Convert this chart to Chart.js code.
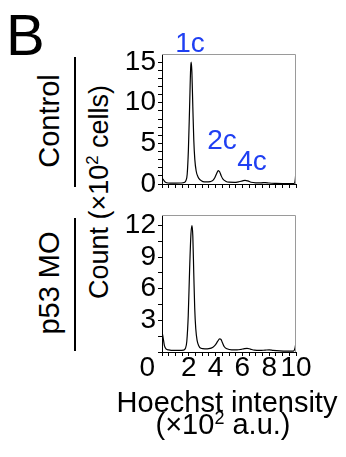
<!DOCTYPE html>
<html>
<head>
<meta charset="utf-8">
<script src="https://cdn.jsdelivr.net/npm/chart.js@4.4.1/dist/chart.umd.min.js"></script>
<style>
    html, body { margin: 0; padding: 0; background: #fff; }
    #fig { position: relative; width: 346px; height: 457px; overflow: hidden; font-family: 'Liberation Sans', Arial, sans-serif; color: #000; }
    .holder { position: absolute; left: 0; width: 346px; }
    .txt { position: absolute; line-height: 1; white-space: nowrap; }
    .rot { transform: translate(-50%, -50%) rotate(-90deg); }
    .ctr { transform: translateX(-50%); }
    .vline { position: absolute; left: 74px; width: 2px; background: #000; }
    sup { font-size: 62%; line-height: 0; vertical-align: 0.55em; }
</style>
</head>
<body>
<div id="fig">
    <div class="txt" style="left:6px; top:6px; font-size:58px;">B</div>
    <div class="txt rot" style="left:49px; top:121px; font-size:29px;">Control</div>
    <div class="txt rot" style="left:49px; top:283px; font-size:29px;">p53 MO</div>
    <div class="txt rot" style="left:99px; top:192px; font-size:27px;">Count (×10<sup>2</sup> cells)</div>
    <div class="vline" style="top:57px; height:130px;"></div>
    <div class="vline" style="top:218px; height:133px;"></div>

    <div class="holder" style="top:0; height:200px;"><canvas id="controlChart"></canvas></div>
    <div class="holder" style="top:190px; height:202px;"><canvas id="p53Chart"></canvas></div>

    <div class="txt ctr" style="left:227px; top:388px; font-size:29px;">Hoechst intensity</div>
    <div class="txt ctr" style="left:223px; top:410px; font-size:29px;">(×10<sup>2</sup> a.u.)</div>
</div>
<script>
// Hoechst intensity (x10^2 a.u.) and cell count (x10^2 cells)
const controlX = [0, 0.1, 0.2, 0.35, 0.6, 1.0, 1.4, 1.65, 1.78, 1.88, 1.97, 2.06, 2.14, 2.18, 2.23, 2.3, 2.37, 2.45, 2.55, 2.68,
    2.85, 3.05, 3.3, 3.6, 3.8, 3.95, 4.08, 4.2, 4.3, 4.42, 4.55, 4.75, 5.0, 5.4, 5.75, 6.0, 6.2, 6.4, 6.65, 7.0,
    7.4, 7.7, 8.0, 8.5, 9.0, 9.5, 9.85, 9.95, 10.0];
const controlCount = [0.7, 0.55, 0.3, 0.15, 0.1, 0.1, 0.12, 0.18, 0.4, 1.2, 4.2, 9.5, 14.3, 15.0, 13.8, 9.5, 5.5, 3.0, 1.6, 0.9,
    0.5, 0.3, 0.25, 0.3, 0.45, 0.8, 1.3, 1.65, 1.5, 1.0, 0.6, 0.35, 0.22, 0.2, 0.28, 0.38, 0.45, 0.38, 0.22, 0.15,
    0.14, 0.18, 0.12, 0.08, 0.06, 0.05, 0.05, 0.6, 1.8];

const p53X = [0, 0.08, 0.18, 0.3, 0.5, 0.9, 1.3, 1.6, 1.75, 1.85, 1.96, 2.06, 2.16, 2.24, 2.3, 2.37, 2.44, 2.52, 2.62, 2.74,
    2.9, 3.2, 3.5, 3.8, 4.0, 4.15, 4.3, 4.4, 4.52, 4.65, 4.85, 5.2, 5.6, 5.9, 6.15, 6.35, 6.6, 6.9, 7.3, 7.7,
    8.0, 8.3, 8.8, 9.3, 9.8, 9.93, 10.0];
const p53Count = [1.9, 1.4, 0.6, 0.3, 0.2, 0.15, 0.15, 0.18, 0.35, 1.0, 3.5, 7.8, 11.2, 12.0, 11.0, 7.5, 4.2, 2.2, 1.1, 0.6,
    0.35, 0.3, 0.32, 0.45, 0.7, 1.0, 1.25, 1.2, 0.85, 0.5, 0.3, 0.2, 0.2, 0.25, 0.32, 0.35, 0.27, 0.18, 0.15, 0.18,
    0.2, 0.15, 0.1, 0.08, 0.08, 0.4, 0.95];

const xTicks = [0, 0.5, 1, 1.5, 2, 2.5, 3, 3.5, 4, 4.5, 5, 5.5, 6, 6.5, 7, 7.5, 8, 8.5, 9, 9.5, 10];
const xLabeled = [2, 4, 6, 8, 10];
const controlYTicks = [0, 1, 2, 3, 4, 5, 6, 7, 8, 9, 10, 11, 12, 13, 14, 15];
const controlYLabeled = [0, 5, 10, 15];
const p53YTicks = [0, 1.5, 3, 4.5, 6, 7.5, 9, 10.5, 12];
const p53YLabeled = [3, 6, 9, 12];

const peakLabels = ['1c', '2c', '4c'];
const peakLabelX = [2.09, 4.48, 6.72];
const peakLabelY = [16.2, 4.32, 1.68];

const FONT = "'Liberation Sans', Arial, sans-serif";

function toPoints(xs, ys) {
    return xs.map(function (x, i) { return { x: x, y: ys[i] }; });
}

const framePlugin = {
    id: 'frame',
    afterDatasetsDraw: function (chart, args, opts) {
        const ctx = chart.ctx;
        const a = chart.chartArea;
        ctx.save();
        ctx.strokeStyle = '#9a9a9a';
        ctx.lineWidth = 1;
        ctx.beginPath();
        ctx.moveTo(a.left, a.top + 0.5);
        ctx.lineTo(a.right - 0.5, a.top + 0.5);
        ctx.lineTo(a.right - 0.5, a.bottom);
        ctx.stroke();

        const xs = chart.scales.x;
        const ys = chart.scales.y;
        ctx.font = '28px ' + FONT;
        if (opts.peaks) {
            ctx.fillStyle = '#1f3ff2';
            ctx.textAlign = 'center';
            ctx.textBaseline = 'alphabetic';
            peakLabels.forEach(function (t, i) {
                ctx.fillText(t, xs.getPixelForValue(peakLabelX[i]), ys.getPixelForValue(peakLabelY[i]));
            });
        }
        if (opts.zeroLabel) {
            ctx.fillStyle = '#000';
            ctx.textAlign = 'right';
            ctx.textBaseline = 'middle';
            ctx.fillText('0', a.left - 7, a.bottom + 16);
        }
        ctx.restore();
    }
};

function makeChart(id, cfg) {
    return new Chart(document.getElementById(id), {
        type: 'line',
        data: {
            datasets: [{
                data: toPoints(cfg.xs, cfg.ys),
                borderColor: '#000',
                borderWidth: 1.2,
                pointRadius: 0,
                cubicInterpolationMode: 'monotone',
                fill: false
            }]
        },
        options: {
            responsive: true,
            maintainAspectRatio: false,
            animation: false,
            layout: { padding: { left: 0, top: cfg.padTop, right: 50, bottom: 0 } },
            plugins: {
                legend: { display: false },
                tooltip: { enabled: false },
                frame: { peaks: cfg.peaks, zeroLabel: cfg.zeroLabel }
            },
            scales: {
                x: {
                    type: 'linear',
                    min: 0,
                    max: 10,
                    afterBuildTicks: function (axis) {
                        axis.ticks = xTicks.map(function (v) { return { value: v }; });
                    },
                    afterFit: function (axis) { axis.height = cfg.xHeight; },
                    ticks: {
                        autoSkip: false,
                        maxRotation: 0,
                        minRotation: 0,
                        padding: -2,
                        color: '#000',
                        font: { family: FONT, size: 28, lineHeight: 1 },
                        callback: function (v) {
                            return cfg.xLabels && xLabeled.indexOf(v) >= 0 ? String(v) : '';
                        }
                    },
                    grid: { display: true, drawOnChartArea: false, drawTicks: true, tickLength: 4, color: '#000', lineWidth: 1 },
                    border: { display: true, color: '#000', width: 1 }
                },
                y: {
                    min: 0,
                    max: cfg.yMax,
                    afterBuildTicks: function (axis) {
                        axis.ticks = cfg.yTicks.map(function (v) { return { value: v }; });
                    },
                    afterFit: function (axis) { axis.width = 162; },
                    ticks: {
                        autoSkip: false,
                        padding: 2,
                        color: '#000',
                        font: { family: FONT, size: 28, lineHeight: 1 },
                        callback: function (v) {
                            return cfg.yLabeled.indexOf(v) >= 0 ? String(v) : '';
                        }
                    },
                    grid: { display: true, drawOnChartArea: false, drawTicks: true, tickLength: 4, color: '#000', lineWidth: 1 },
                    border: { display: true, color: '#000', width: 1 }
                }
            }
        },
        plugins: [framePlugin]
    });
}

makeChart('controlChart', {
    xs: controlX, ys: controlCount, yMax: 16, yTicks: controlYTicks, yLabeled: controlYLabeled,
    padTop: 54, xHeight: 13, xLabels: false, peaks: true, zeroLabel: false
});

makeChart('p53Chart', {
    xs: p53X, ys: p53Count, yMax: 13, yTicks: p53YTicks, yLabeled: p53YLabeled,
    padTop: 25, xHeight: 40, xLabels: true, peaks: false, zeroLabel: true
});
</script>
</body>
</html>
